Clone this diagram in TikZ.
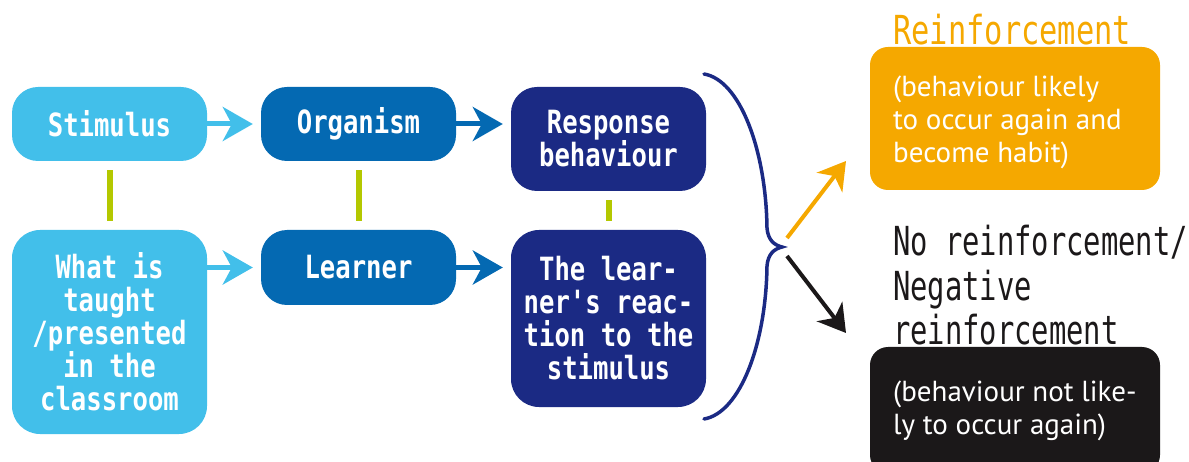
\documentclass[tikz,border=0pt]{standalone}
\usepackage{fontspec}
\usetikzlibrary{arrows.meta}
\setmainfont{PT Sans}
\newfontfamily\stagemono{DejaVu Sans Mono}[FakeStretch=0.8]
\newfontfamily\headmono{DejaVu Sans Mono}[FakeStretch=0.72]
\newfontfamily\wideheadmono{DejaVu Sans Mono}[FakeStretch=0.76]
\definecolor{sky}{HTML}{42BFEA}
\definecolor{ocean}{HTML}{0469B2}
\definecolor{navy}{HTML}{1B2A84}
\definecolor{lime}{HTML}{B4C800}
\definecolor{amber}{HTML}{F5A800}
\definecolor{ink}{HTML}{1B1819}
\begin{document}
\begin{tikzpicture}[x=1pt,y=-1pt,
  stagebox/.style={rounded corners=26pt, minimum width=195pt, text=white,
    align=center, inner sep=0pt,
    font=\stagemono\bfseries\fontsize{32}{33}\selectfont},
  link/.style={draw=lime, line width=6pt, shorten <=9pt, shorten >=9pt},
  flow/.style={line width=5pt, shorten >=8pt,
    -{Stealth[length=30pt,width=34pt,inset=9pt]}},
  branch/.style={line width=4pt,
    -{Stealth[length=27pt,width=32pt,inset=8pt]}},
  outcome/.style={rounded corners=18pt, minimum width=290pt, inner sep=0pt},
  outcometext/.style={inner sep=0pt, align=left, text=white, anchor=north west,
    font=\fontsize{29}{33}\selectfont},
  headline/.style={inner sep=0pt, align=left,
    font=\headmono\fontsize{40}{44.5}\selectfont}]
\useasboundingbox (0,0) rectangle (1189,462);
\clip (0,0) rectangle (1189,462);

% stages of the behaviourist model
\node[stagebox, fill=sky, minimum height=74pt] (stim) at (109.5,124) {Stimulus};
\node[stagebox, fill=ocean, minimum height=74pt] (org) at (358.5,124) {Organism};
\node[stagebox, fill=navy, minimum height=104pt] (resp) at (608.5,139) {Response\\behaviour};
\node[stagebox, fill=sky, minimum height=204pt, rounded corners=28pt] (what) at (109.5,332)
  {What is\\taught\\/presented\\in the\\classroom};
\node[stagebox, fill=ocean, minimum height=75pt] (learner) at (358.5,267.5) {Learner};
\node[stagebox, fill=navy, minimum height=177pt, rounded corners=28pt] (react) at (608.5,318.5)
  {The lear-\\ner's reac-\\tion to the\\stimulus};

% correspondences between the two rows
\draw[link] (stim) -- (what);
\draw[link] (org) -- (learner);
\draw[link] (resp) -- (react);

% flow along each row
\draw[flow, draw=sky, fill=sky] (stim.east) -- (stim.east -| org.west);
\draw[flow, draw=ocean, fill=ocean] (org.east) -- (org.east -| resp.west);
\draw[flow, draw=sky, fill=sky] (learner.west -| what.east) -- (learner.west);
\draw[flow, draw=ocean, fill=ocean] (learner.east) -- (learner.east -| react.west);

% bracket gathering the responses
\coordinate (brtop) at (704,74);
\coordinate (brtip) at (782,247);
\coordinate (brbot) at (704,419);
\draw[navy, line width=3.5pt, line cap=round]
  (brtop) .. controls (740,80) and (766,150) .. (767,228)
  .. controls (768,240) and (774,245) .. (brtip)
  .. controls (774,249) and (768,254) .. (767,266)
  .. controls (766,344) and (740,413) .. (brbot);

% the two outcomes
\coordinate (upfrom) at (787,238);
\coordinate (upto) at (846,161);
\coordinate (downfrom) at (787,256);
\coordinate (downto) at (846,333);
\draw[branch, draw=amber, fill=amber] (upfrom) -- (upto);
\draw[branch, draw=ink, fill=ink] (downfrom) -- (downto);

\node[outcome, fill=amber, minimum height=143pt] (pos) at (1015,118.5) {};
\node[outcome, fill=ink, minimum height=126pt] (neg) at (1015,410) {};
\node[outcometext] (postext) at (893,76)
  {(behaviour likely\\to occur again and\\become habit)};
\node[outcometext] (negtext) at (893,381)
  {(behaviour not like-\\ly to occur again)};

\node[headline, text=amber, anchor=base west, font=\wideheadmono\fontsize{40}{44.5}\selectfont]
  (posname) at (893,45) {Reinforcement};
\node[headline, text=ink, anchor=north west] (negname) at (893,225)
  {No reinforcement/\\Negative\\reinforcement};
\end{tikzpicture}
\end{document}
